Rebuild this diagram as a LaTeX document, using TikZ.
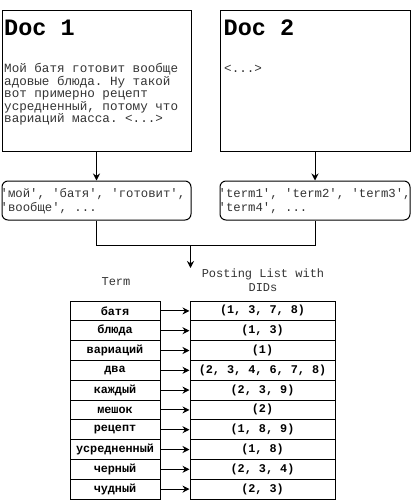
\documentclass[tikz,border=0pt]{standalone}
\usepackage{fontspec}
\setmonofont{Liberation Mono}
\usetikzlibrary{arrows.meta}

\begin{document}
\begin{tikzpicture}[
  x=1pt, y=-1pt,
  font=\ttfamily,
  docbox/.style={draw=black, line width=1pt, minimum width=189pt, minimum height=141pt, inner sep=0pt},
  doctitle/.style={anchor=base west, inner sep=0pt, font=\ttfamily\bfseries\fontsize{23.5}{26}\selectfont},
  doctext/.style={anchor=north west, inner sep=0pt, align=left, text=black!80,
    font=\ttfamily\fontsize{12.6}{12.6}\selectfont},
  tokbox/.style={draw=black, line width=1pt, rounded corners=6pt, minimum width=189pt,
    minimum height=39pt, inner sep=0pt},
  toktext/.style={anchor=west, inner sep=0pt, align=left, text=black!80,
    font=\ttfamily\fontsize{12.3}{14}\selectfont},
  head/.style={align=center, inner sep=0pt, text=black!80, font=\ttfamily\fontsize{12}{14}\selectfont},
  term/.style={draw=black, line width=1pt, minimum width=90pt, minimum height=19.8pt, inner sep=0pt,
    font=\ttfamily\bfseries\fontsize{11.8}{14}\selectfont},
  post/.style={term, minimum width=145pt},
  flow/.style={-{Stealth[length=7pt, width=7pt]}, line width=1pt},
  link/.style={line width=1pt}
]
\useasboundingbox (0,0) rectangle (411,501);

% the two documents
\node[docbox] (doc1) at (96.5,80.5) {};
\node[doctitle] (doc1title) at (4,35.5) {Doc 1};
\node[doctext] (doc1text) at (4,63) {Мой батя готовит вообще\\адовые блюда. Ну такой\\вот примерно рецепт\\усредненный, потому что\\вариаций масса. <...>};

\node[docbox, minimum width=190pt] (doc2) at (315,80.5) {};
\node[doctitle] (doc2title) at (223.5,35.5) {Doc 2};
\node[doctext, anchor=base west] (doc2text) at (224,72) {<...>};

% tokens of each document
\node[tokbox] (tok1) at (96.5,200.5) {};
\node[toktext] (tok1text) at ([xshift=-1pt, yshift=-1pt]tok1.west) {'мой', 'батя', 'готовит',\\'вообще', ...};
\node[tokbox, minimum width=190pt] (tok2) at (315,200.5) {};
\node[toktext] (tok2text) at ([xshift=-1pt, yshift=-1pt]tok2.west) {'term1', 'term2', 'term3',\\'term4', ...};

\draw[flow] (doc1) -- (tok1);
\draw[flow] (doc2) -- (tok2);

% both token lists go into the index
\coordinate (join) at (190.5,245);
\coordinate (index) at (190.5,268);
\draw[link] (tok1.south) -- (tok1.south |- join) -- (tok2.south |- join) -- (tok2.south);
\draw[flow] (join) -- (index);

\node[head] (termhead) at (116,281.5) {Term};
\node[head, anchor=north] (posthead) at (263,268.5) {Posting List with\\DIDs};

% inverted index: term -> posting list
\node[term] (t1)  at (115,310.9) {батя};
\node[term] (t2)  at (115,330.7) {блюда};
\node[term] (t3)  at (115,350.5) {вариаций};
\node[term] (t4)  at (115,370.3) {два};
\node[term] (t5)  at (115,390.1) {каждый};
\node[term] (t6)  at (115,409.9) {мешок};
\node[term] (t7)  at (115,429.7) {рецепт};
\node[term] (t8)  at (115,449.5) {усредненный};
\node[term] (t9)  at (115,469.3) {черный};
\node[term] (t10) at (115,489.1) {чудный};

\node[post] (p1)  at (262.5,310.9) {(1, 3, 7, 8)};
\node[post] (p2)  at (262.5,330.7) {(1, 3)};
\node[post] (p3)  at (262.5,350.5) {(1)};
\node[post] (p4)  at (262.5,370.3) {(2, 3, 4, 6, 7, 8)};
\node[post] (p5)  at (262.5,390.1) {(2, 3, 9)};
\node[post] (p6)  at (262.5,409.9) {(2)};
\node[post] (p7)  at (262.5,429.7) {(1, 8, 9)};
\node[post] (p8)  at (262.5,449.5) {(1, 8)};
\node[post] (p9)  at (262.5,469.3) {(2, 3, 4)};
\node[post] (p10) at (262.5,489.1) {(2, 3)};

\draw[flow] (t1) -- (p1);
\draw[flow] (t2) -- (p2);
\draw[flow] (t3) -- (p3);
\draw[flow] (t4) -- (p4);
\draw[flow] (t5) -- (p5);
\draw[flow] (t6) -- (p6);
\draw[flow] (t7) -- (p7);
\draw[flow] (t8) -- (p8);
\draw[flow] (t9) -- (p9);
\draw[flow] (t10) -- (p10);

\end{tikzpicture}
\end{document}
